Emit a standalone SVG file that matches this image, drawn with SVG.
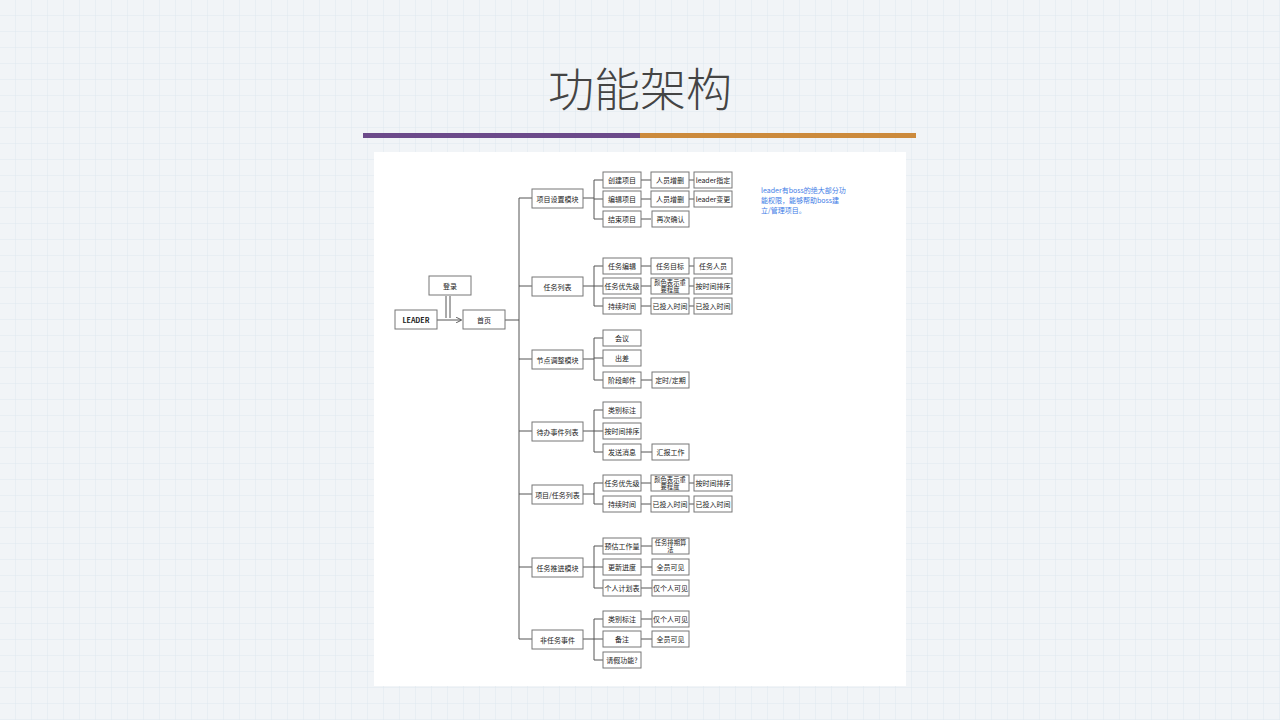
<svg xmlns="http://www.w3.org/2000/svg" width="1280" height="720" viewBox="0 0 1280 720">
<defs>
<pattern id="g" width="16" height="16" patternUnits="userSpaceOnUse"><rect width="16" height="16" fill="#f1f4f7"/><path d="M16 0V16H0" fill="none" stroke="#dfe8ef" stroke-width="1"/></pattern>
<marker id="a" viewBox="0 0 8 8" refX="7" refY="4" markerWidth="6" markerHeight="6" orient="auto"><path d="M0 0L8 4L0 8" fill="none" stroke="#555" stroke-width="1.2"/></marker>
<style>
.b rect{fill:#fff;stroke:#777;stroke-width:1}
.b text{font-family:"Noto Sans CJK SC",sans-serif;font-size:7px;fill:#222;text-anchor:middle;dominant-baseline:central}
.b text.s{font-size:6.3px}
.c path{fill:none;stroke:#555;stroke-width:1}
</style>
</defs>
<rect width="1280" height="720" fill="url(#g)"/>
<text x="640" y="106" font-family="'Noto Sans CJK SC',sans-serif" font-size="46" font-weight="300" fill="#444" text-anchor="middle">功能架构</text>
<rect x="363" y="133" width="277" height="5" fill="#6c4a8a"/>
<rect x="640" y="133" width="276" height="5" fill="#cc8a3c"/>
<rect x="374" y="152" width="532" height="534" fill="#fff"/>
<g class="c" id="connectors">
<path d="M437 320H461" marker-end="url(#a)"/>
<path d="M446 296V318M450 296V318"/>
<path d="M505 320H519M519 198V639M519 198H532M519 286H532M519 359H532M519 431H532M519 494H532M519 567H532M519 639H532"/>
<path d="M583 198H594M594 180V219M594 180H603M594 199H603M594 219H603M641 180H651M689 180H694M641 199H651M689 199H694M641 219H651"/>
<path d="M583 286H594M594 266V306M594 266H603M594 286H603M594 306H603M641 266H651M689 266H694M641 286H651M689 286H694M641 306H651M689 306H694"/>
<path d="M583 359H594M594 338V380M594 338H603M594 358H603M594 380H603M641 380H652"/>
<path d="M583 431H594M594 410V452M594 410H603M594 431H603M594 452H603M641 452H652"/>
<path d="M583 494H594M594 483V504M594 483H603M594 504H603M641 483H651M689 483H694M641 504H651M689 504H694"/>
<path d="M583 567H594M594 546V588M594 546H603M594 567H603M594 588H603M641 546H652M641 567H652M641 588H652"/>
<path d="M583 639H594M594 619V660M594 619H603M594 639H603M594 660H603M641 619H652M641 639H652"/>
</g>
<g class="b">
<g id="leader"><rect x="395" y="310" width="42" height="19"/><text x="416" y="320" font-weight="bold">LEADER</text></g>
<g id="login"><rect x="429" y="276" width="42" height="19"/><text x="450" y="286">登录</text></g>
<g id="home"><rect x="463" y="310" width="42" height="19"/><text x="484" y="320">首页</text></g>
<g id="m1"><rect x="532" y="189" width="51" height="19"/><text x="557.5" y="198.5">项目设置模块</text></g>
<g id="m2"><rect x="532" y="277" width="51" height="19"/><text x="557.5" y="286.5">任务列表</text></g>
<g id="m3"><rect x="532" y="350" width="51" height="19"/><text x="557.5" y="359.5">节点调整模块</text></g>
<g id="m4"><rect x="532" y="422" width="51" height="19"/><text x="557.5" y="431.5">待办事件列表</text></g>
<g id="m5"><rect x="532" y="485" width="51" height="19"/><text x="557.5" y="494.5">项目/任务列表</text></g>
<g id="m6"><rect x="532" y="558" width="51" height="19"/><text x="557.5" y="567.5">任务推进模块</text></g>
<g id="m7"><rect x="532" y="630" width="51" height="19"/><text x="557.5" y="639.5">非任务事件</text></g>

<g id="n1"><rect x="603" y="172" width="38" height="16"/><text x="622" y="180">创建项目</text></g>
<g id="n2"><rect x="651" y="172" width="38" height="16"/><text x="670" y="180">人员增删</text></g>
<g id="n3"><rect x="694" y="172" width="38" height="16"/><text x="713" y="180">leader指定</text></g>
<g id="n4"><rect x="603" y="191" width="38" height="16"/><text x="622" y="199">编辑项目</text></g>
<g id="n5"><rect x="651" y="191" width="38" height="16"/><text x="670" y="199">人员增删</text></g>
<g id="n6"><rect x="694" y="191" width="38" height="16"/><text x="713" y="199">leader变更</text></g>
<g id="n7"><rect x="603" y="211" width="38" height="16"/><text x="622" y="219">结束项目</text></g>
<g id="n8"><rect x="652" y="211" width="37" height="16"/><text x="670.5" y="219">再次确认</text></g>

<g id="t1"><rect x="603" y="258" width="38" height="16"/><text x="622" y="266">任务编辑</text></g>
<g id="t2"><rect x="651" y="258" width="38" height="16"/><text x="670" y="266">任务目标</text></g>
<g id="t3"><rect x="694" y="258" width="38" height="16"/><text x="713" y="266">任务人员</text></g>
<g id="t4"><rect x="603" y="278" width="38" height="16"/><text x="622" y="286">任务优先级</text></g>
<g id="t5"><rect x="651" y="278" width="38" height="16"/><text class="s" x="670" y="282.3">颜色表示重</text><text class="s" x="670" y="289.3">要程度</text></g>
<g id="t6"><rect x="694" y="278" width="38" height="16"/><text x="713" y="286">按时间排序</text></g>
<g id="t7"><rect x="603" y="298" width="38" height="16"/><text x="622" y="306">持续时间</text></g>
<g id="t8"><rect x="651" y="298" width="38" height="16"/><text x="670" y="306">已投入时间</text></g>
<g id="t9"><rect x="694" y="298" width="38" height="16"/><text x="713" y="306">已投入时间</text></g>

<g id="p1"><rect x="603" y="330" width="38" height="16"/><text x="622" y="338">会议</text></g>
<g id="p2"><rect x="603" y="350" width="38" height="16"/><text x="622" y="358">出差</text></g>
<g id="p3"><rect x="603" y="372" width="38" height="16"/><text x="622" y="380">阶段邮件</text></g>
<g id="p4"><rect x="652" y="372" width="37" height="16"/><text x="670.5" y="380">定时/定期</text></g>

<g id="d1"><rect x="603" y="402" width="38" height="16"/><text x="622" y="410">类别标注</text></g>
<g id="d2"><rect x="603" y="423" width="38" height="16"/><text x="622" y="431">按时间排序</text></g>
<g id="d3"><rect x="603" y="444" width="38" height="16"/><text x="622" y="452">发送消息</text></g>
<g id="d4"><rect x="652" y="444" width="37" height="16"/><text x="670.5" y="452">汇报工作</text></g>

<g id="e1"><rect x="603" y="475" width="38" height="16"/><text x="622" y="483">任务优先级</text></g>
<g id="e2"><rect x="651" y="475" width="38" height="16"/><text class="s" x="670" y="479.3">颜色表示重</text><text class="s" x="670" y="486.3">要程度</text></g>
<g id="e3"><rect x="694" y="475" width="38" height="16"/><text x="713" y="483">按时间排序</text></g>
<g id="e4"><rect x="603" y="496" width="38" height="16"/><text x="622" y="504">持续时间</text></g>
<g id="e5"><rect x="651" y="496" width="38" height="16"/><text x="670" y="504">已投入时间</text></g>
<g id="e6"><rect x="694" y="496" width="38" height="16"/><text x="713" y="504">已投入时间</text></g>

<g id="f1"><rect x="603" y="538" width="38" height="16"/><text x="622" y="546">预估工作量</text></g>
<g id="f2"><rect x="652" y="538" width="37" height="16"/><text class="s" x="670.5" y="542.3">任务排期算</text><text class="s" x="670.5" y="549.3">法</text></g>
<g id="f3"><rect x="603" y="559" width="38" height="16"/><text x="622" y="567">更新进度</text></g>
<g id="f4"><rect x="652" y="559" width="37" height="16"/><text x="670.5" y="567">全员可见</text></g>
<g id="f5"><rect x="603" y="580" width="38" height="16"/><text x="622" y="588">个人计划表</text></g>
<g id="f6"><rect x="652" y="580" width="37" height="16"/><text x="670.5" y="588">仅个人可见</text></g>

<g id="h1"><rect x="603" y="611" width="38" height="16"/><text x="622" y="619">类别标注</text></g>
<g id="h2"><rect x="652" y="611" width="37" height="16"/><text x="670.5" y="619">仅个人可见</text></g>
<g id="h3"><rect x="603" y="631" width="38" height="16"/><text x="622" y="639">备注</text></g>
<g id="h4"><rect x="652" y="631" width="37" height="16"/><text x="670.5" y="639">全员可见</text></g>
<g id="h5"><rect x="603" y="652" width="38" height="16"/><text x="622" y="660">请假功能?</text></g>
</g>
<g id="note" font-family="'Noto Sans CJK SC',sans-serif" font-size="7" fill="#3d7be6">
<text x="761" y="193">leader有boss的绝大部分功</text>
<text x="761" y="203">能权限，能够帮助boss建</text>
<text x="761" y="213">立/管理项目。</text>
</g>
</svg>
